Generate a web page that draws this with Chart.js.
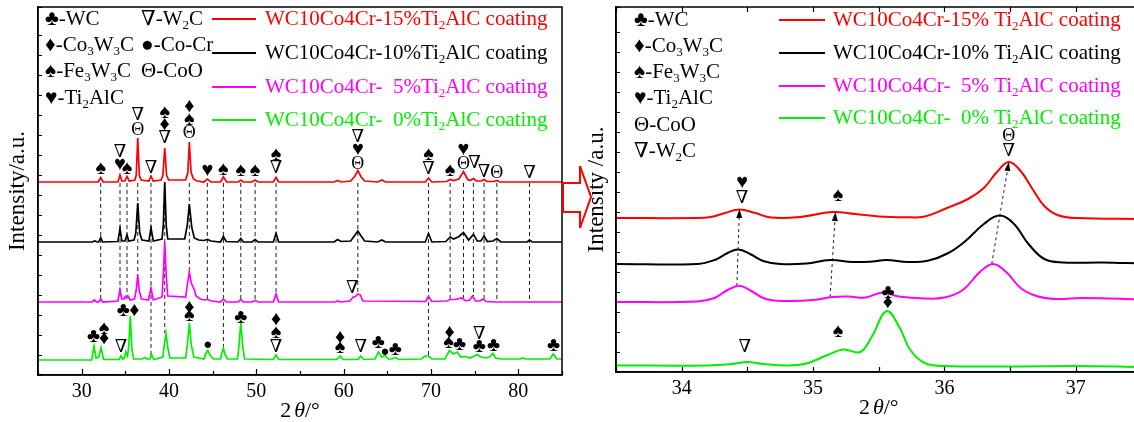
<!DOCTYPE html>
<html>
<head>
<meta charset="utf-8">
<script src="https://cdn.jsdelivr.net/npm/chart.js@4.4.0/dist/chart.umd.min.js"></script>
<style>
  html, body { margin: 0; padding: 0; background: #fff; overflow: hidden; }
  #wrap { position: relative; width: 1134px; height: 422px; overflow: hidden; }
  canvas { position: absolute; top: 0; }
  #cl { left: 0; width: 575px; height: 422px; }
  #cr { left: 570px; width: 580px; height: 422px; }
  svg { position: absolute; left: 0; top: 0; }
</style>
</head>
<body>
<div id="wrap">
  <canvas id="cl" width="575" height="422"></canvas>
  <canvas id="cr" width="580" height="422"></canvas>
  <svg width="1134" height="422">
    <polygon points="563,183 580,183 580,166 591,197 580,228 580,212 563,212" fill="#fff" stroke="#f00" stroke-width="2"/>
  </svg>
</div>
<script>
/* ── XRD patterns: [2θ, intensity (a.u., offset stacked)] ── */

// left panel, 25–85°
const redL = [[25,193],[31.9,193],[32.18,197.5],[32.45,193],[34.15,193],[34.39,200],[34.6,194],[34.95,194],[35.19,198.5],[35.45,194],
  [36.1,195],[36.25,200],[36.42,237],[36.6,200],[36.8,195],[37.7,194],[37.94,199],[38.2,194],
  [39.1,195],[39.3,200],[39.51,227],[39.72,200],[39.95,195],[41.9,195],[42.15,202],[42.33,233],[42.52,203],[42.8,196],[43.2,194],
  [44.0,193],[44.39,196],[44.8,193],[45.9,193],[46.23,198],[46.6,193],[47.95,193],[48.22,195],[48.5,193],[49.5,193],[49.86,195],[50.2,193],
  [51.95,193],[52.26,197.5],[52.55,193],[58.9,193],[59.3,194.5],[59.7,193],[60.8,194],[61.3,199],[61.62,204.5],[62.0,198],[62.4,194],
  [63.9,193],[64.37,195],[64.8,193],[69.35,193],[69.71,197],[70.1,193],[71.8,193.5],[72.19,195.5],[72.6,194.5],[73.2,196],[73.72,203.5],
  [74.2,195.5],[74.5,194.5],[74.86,196.5],[75.2,194],[75.7,194],[76.08,195.5],[76.4,193.5],[77.2,193.5],[77.54,194.5],[77.9,193],[85,193]];
const blackL = [[25,133],[31.2,133],[31.5,134],[31.8,133],[31.95,133],[32.18,137.5],[32.4,133],[34.15,133.5],[34.39,146.5],[34.6,134],
  [34.95,134],[35.19,140],[35.4,134],[36.0,135],[36.2,142],[36.42,172],[36.65,142],[36.9,135],[37.7,134],[37.94,147],[38.2,134],
  [39.2,136],[39.35,150],[39.51,193],[39.68,150],[39.85,136],[41.8,136],[42.1,150],[42.33,171],[42.6,148],[42.9,137],[43.4,135],
  [44.0,134.5],[44.4,135.5],[44.8,134],[45.9,133],[46.23,138.5],[46.55,133.5],[47.9,133],[48.22,136.5],[48.5,133],[49.5,133],[49.86,135.5],[50.2,133],
  [51.95,133],[52.26,141.5],[52.55,133],[58.9,133],[59.3,135.5],[59.7,133.5],[60.8,134],[61.3,140],[61.62,144],[62.0,139],[62.4,134],
  [63.9,133],[64.37,135],[64.8,133],[69.35,133],[69.71,141.5],[70.1,133],[71.7,133.5],[72.19,138],[72.6,136],[73.2,138.5],[73.72,142.5],
  [74.3,135],[74.86,140.5],[75.3,134],[75.7,134],[76.08,139],[76.45,133.5],[77.1,134],[77.54,136.5],[78.0,133],[81.0,133],[81.28,135],[81.6,133],[85,133]];
const magentaL = [[25,73],[31.2,73],[31.45,75],[31.7,73],[31.95,73],[32.18,76],[32.4,73],[34.15,74],[34.39,85],[34.6,76],[34.85,76],
  [35.0,78.5],[35.15,77],[35.3,79],[35.55,75],[36.05,76],[36.25,85],[36.42,100],[36.6,84],[36.85,76],[37.65,75],[37.94,87],[38.2,75],
  [39.2,78],[39.35,100],[39.51,133],[39.68,100],[39.85,79],[41.9,78],[42.1,90],[42.33,103],[42.55,92],[42.75,88],[42.9,85],[43.1,79],[43.6,76],
  [44.0,75],[44.4,75.5],[44.9,74],[45.9,73],[46.23,76],[46.55,73],[47.95,73],[48.22,75.5],[48.5,73],[49.5,73],[49.86,74.5],[50.2,73],
  [51.95,73],[52.26,81],[52.55,73],[59.0,73],[59.3,74],[59.6,73],[60.7,74],[61.1,78],[61.35,78.5],[61.62,81],[61.9,80],[62.2,74],
  [69.4,73.5],[69.71,78.5],[70.1,73.5],[71.8,74],[72.2,75.5],[72.8,75.5],[73.5,77],[73.9,74.5],[74.4,74.5],[74.75,79],[75.1,74],
  [75.6,74],[75.95,76],[76.3,73.5],[77.3,73],[85,73]];
const greenL = [[25,15],[31.15,15],[31.41,29],[31.65,17],[31.95,18],[32.22,27.5],[32.5,15.5],[34.3,15.5],[34.5,19],[34.7,16],[34.9,17],
  [35.05,23],[35.25,19],[35.4,30],[35.57,59],[35.75,26],[35.95,16],[36.9,16],[37.2,17.5],[37.5,16],[37.8,16],[38.0,20.5],[38.25,15.5],
  [39.3,18],[39.45,30],[39.66,41.5],[39.85,28],[40.1,17],[41.9,17],[42.1,30],[42.33,52],[42.55,30],[42.85,18],
  [44.0,16],[44.25,22],[44.44,24.5],[44.7,20],[45.1,16],[45.9,16],[46.05,22],[46.23,26.5],[46.45,20],[46.7,16],
  [47.85,16],[48.0,28],[48.22,52],[48.45,28],[48.65,16],[51.95,15.5],[52.26,20],[52.55,15.5],[59.2,15.5],[59.6,19],[59.95,15.5],
  [61.65,15.5],[61.96,19],[62.3,15.5],[63.6,16],[63.98,23],[64.35,18],[64.75,19.5],[65.1,16],[65.5,16],[65.9,17.5],[66.3,15.5],
  [68.9,16],[69.3,19],[69.7,19],[70.1,16],[71.6,16],[72.1,24.5],[72.6,21],[73.0,23],[73.4,18],[74.0,18.5],[74.5,17],[75.3,20.5],
  [75.7,18],[76.3,17],[76.7,18],[77.08,21.5],[77.4,17],[78.0,16],[80.2,16],[80.5,17],[80.8,16],[83.6,16],[84.0,21],[84.4,16],[85,16]];

// dashed guide lines (left): 2θ, top and bottom intensity
const dashX   = [32.18, 34.39, 35.19, 36.42, 37.94, 39.51, 42.33, 44.39, 46.23, 48.22, 49.86, 52.26, 61.62, 69.71, 72.19, 73.72, 74.86, 76.08, 77.54, 81.28];
const dashEnd = [73, 85, 78, 100, 20, 42, 103, 75, 27, 75, 74, 81, 80, 19, 75, 77, 79, 76, 73, 72];
const dashTop = 192;

// phase markers (left): 2θ, intensity, glyph
const symLX = [32.18, 34.39, 34.39, 35.19, 36.42, 36.42, 37.94, 39.51, 39.51, 39.51, 42.33, 42.33, 42.33, 44.39, 46.23, 48.22, 49.86,
  52.26, 52.26, 61.62, 61.62, 61.62, 69.71, 69.71, 72.19, 73.72, 73.72, 74.98, 76.08, 77.54, 81.28,
  61.0,
  31.35, 32.56, 32.56, 34.5, 34.78, 36.04, 42.33, 42.33, 44.44, 48.22, 52.26, 52.26, 52.26, 59.6, 59.6, 61.96, 63.98, 64.75, 65.9,
  72.12, 72.0, 73.26, 75.52, 75.52, 77.15, 84.03];
const symLY = [206, 223, 210, 206, 260, 245, 207, 262, 250, 237, 268, 255, 242, 204, 205, 204, 204,
  220, 207, 238, 225, 211, 220, 206, 204, 225, 211, 212, 203, 202, 202,
  87,
  38, 46, 36, 28, 64, 64, 67, 59, 30, 57, 55, 42, 28, 37, 27, 28, 32, 23, 25,
  42, 32, 30, 41, 28, 29, 29];
const symLG = ['♠', '∇', '♥', '♠', '∇', 'Θ', '∇', '♠', '♦', '∇', '♦', '♠', 'Θ', '♥', '♠', '♠', '♠',
  '♠', '∇', '∇', '♥', 'Θ', '♠', '∇', '♠', '♥', 'Θ', '∇', '∇', 'Θ', '∇',
  '∇',
  '♣', '♠', '♦', '∇', '♣', '♦', '♦', '♠', '●', '♣', '♦', '♠', '∇', '♦', '♠', '∇', '♣', '●', '♣',
  '♦', '♠', '♣', '∇', '♣', '♣', '♣'];

// right panel, 33.5–37.5°
const redR = [[33.5,154],[34.1,154],[34.22,155],[34.33,159],[34.44,162.6],[34.56,159],[34.68,154.5],[34.9,155],[35.15,160],[35.32,158],
  [35.5,155.5],[35.7,154.8],[35.85,155.5],[36.02,164],[36.18,173],[36.3,184],[36.4,200],[36.49,210],[36.58,201],[36.67,183],
  [36.76,166],[36.86,157],[37.0,154],[37.5,153]];
const blackR = [[33.5,108],[34.12,108],[34.25,112],[34.35,119],[34.43,122.6],[34.52,118],[34.62,111],[34.75,108],[34.95,108.5],
  [35.13,112],[35.3,110],[35.45,110.5],[35.56,112],[35.72,110],[35.88,111.5],[36.03,119],[36.16,131],[36.3,148],[36.42,156.4],
  [36.53,148],[36.64,128],[36.76,113],[36.9,109.5],[37.2,109.5],[37.5,108.5]];
const magentaR = [[33.5,70],[34.12,70.5],[34.25,74],[34.35,82],[34.44,86.2],[34.53,81],[34.64,73],[34.8,71],[35.0,72],[35.15,75],[35.27,75.5],
  [35.4,74.5],[35.53,79.5],[35.65,75.5],[35.85,73.5],[36.0,74.5],[36.14,82],[36.27,100],[36.37,108],[36.47,100],[36.58,84],
  [36.7,76],[36.85,73],[37.05,74],[37.5,72.5]];
const greenR = [[33.5,6.5],[34.2,6.5],[34.38,8],[34.5,10],[34.62,8],[34.8,6.5],[34.95,8.5],[35.1,16.5],[35.23,22.5],[35.36,20],
  [35.45,36],[35.56,61],[35.66,44],[35.74,22],[35.85,9],[36.0,6],[36.5,5.5],[37.0,6],[37.5,5]];

// shift arrows (right): from magenta peak to red peak
const arrowX0 = [34.42, 35.13, 36.36];
const arrowY0 = [86, 75, 108];
const arrowX1 = [34.44, 35.17, 36.49];
const arrowY1 = [163, 160, 210];

// phase markers (right)
const symRX = [34.46, 34.46, 35.19, 36.49, 36.49, 34.48, 35.19, 35.57, 35.57];
const symRY = [189, 174, 176, 236, 221, 25, 40, 79, 69];
const symRG = ['♥', '∇', '♠', 'Θ', '∇', '∇', '♠', '♣', '♦'];

const seriesColors = ['#ff0000', '#000000', '#ff00ff', '#00f000'];
const labelsL = ['WC10Co4Cr-15%Ti_2AlC coating', 'WC10Co4Cr-10%Ti_2AlC coating', 'WC10Co4Cr-  5%Ti_2AlC coating', 'WC10Co4Cr-  0%Ti_2AlC coating'];
const labelsR = ['WC10Co4Cr-15% Ti_2AlC coating', 'WC10Co4Cr-10% Ti_2AlC coating', 'WC10Co4Cr-  5% Ti_2AlC coating', 'WC10Co4Cr-  0% Ti_2AlC coating'];
const phasesL1 = ['♣-WC', '♦-Co_3W_3C', '♠-Fe_3W_3C', '♥-Ti_2AlC'];
const phasesL2 = ['∇-W_2C', '●-Co-Cr', 'Θ-CoO'];
const phasesR = ['♣-WC', '♦-Co_3W_3C', '♠-Fe_3W_3C', '♥-Ti_2AlC', 'Θ-CoO', '∇-W_2C'];

const SERIF = '"Liberation Serif", "DejaVu Serif", serif';

// text with '_x' subscripts
function rich(ctx, str, x, y, size, color) {
  const segs = [];
  for (let i = 0; i < str.length; i++) {
    if (str[i] === '_') { segs.push([str[i + 1], true]); i++; }
    else if (segs.length && !segs[segs.length - 1][1]) segs[segs.length - 1][0] += str[i];
    else segs.push([str[i], false]);
  }
  ctx.fillStyle = color;
  ctx.textAlign = 'left';
  ctx.textBaseline = 'middle';
  segs.forEach(([t, sub]) => {
    const fs = sub ? Math.round(size * 0.62) : size;
    ctx.font = `${fs}px ${SERIF}`;
    ctx.fillText(t, x, sub ? y + size * 0.33 : y);
    x += ctx.measureText(t).width;
  });
}

const decor = {
  id: 'decor',
  afterDraw(chart, args, o) {
    const { ctx, chartArea: a, scales: { x, y } } = chart;
    ctx.save();
    ctx.strokeStyle = '#000';
    ctx.lineWidth = 1.5;
    ctx.setLineDash([]);
    ctx.strokeRect(a.left, a.top, a.right - a.left, a.bottom - a.top);
    ctx.lineWidth = 1.2;
    ctx.beginPath();
    x.ticks.forEach(t => {
      const px = Math.round(x.getPixelForValue(t.value)) + 0.5;
      const len = t.label !== '' ? o.major : o.minor;
      ctx.moveTo(px, a.bottom); ctx.lineTo(px, a.bottom - len);
      if (o.topTicks) { ctx.moveTo(px, a.top); ctx.lineTo(px, a.top + len); }
    });
    y.ticks.forEach(t => {
      const py = Math.round(y.getPixelForValue(t.value)) + 0.5;
      ctx.moveTo(a.left, py); ctx.lineTo(a.left + 4, py);
    });
    ctx.stroke();

    // x title: 2θ/°
    const cx = (a.left + a.right) / 2;
    const parts = [['2', ''], ['θ', 'italic '], ['/°', '']];
    let w = 0;
    parts.forEach(([t, st]) => { ctx.font = `${st}22px ${SERIF}`; w += ctx.measureText(t).width + (t === '2' ? 3 : 0); });
    let tx = cx - w / 2;
    ctx.fillStyle = '#000'; ctx.textAlign = 'left'; ctx.textBaseline = 'middle';
    parts.forEach(([t, st]) => { ctx.font = `${st}22px ${SERIF}`; ctx.fillText(t, tx, o.titleY); tx += ctx.measureText(t).width + (t === '2' ? 3 : 0); });

    // phase markers
    ctx.textAlign = 'center';
    o.sx.forEach((v, i) => {
      const g = o.sg[i];
      const fs = (g === '∇' || g === 'Θ') ? 18 : (g === '●' ? 15 : 20);
      ctx.font = `${fs}px ${SERIF}`;
      ctx.fillText(g, x.getPixelForValue(v), y.getPixelForValue(o.sy[i]));
    });

    // arrow heads
    if (o.arrows) {
      o.arrows.x1.forEach((v, i) => {
        const px = x.getPixelForValue(v), py = y.getPixelForValue(o.arrows.y1[i]);
        const qx = x.getPixelForValue(o.arrows.x0[i]), qy = y.getPixelForValue(o.arrows.y0[i]);
        const ang = Math.atan2(py - qy, px - qx);
        ctx.beginPath();
        ctx.moveTo(px, py);
        ctx.lineTo(px - 9 * Math.cos(ang) + 3 * Math.sin(ang), py - 9 * Math.sin(ang) - 3 * Math.cos(ang));
        ctx.lineTo(px - 9 * Math.cos(ang) - 3 * Math.sin(ang), py - 9 * Math.sin(ang) + 3 * Math.cos(ang));
        ctx.closePath();
        ctx.fill();
      });
    }

    // legends
    o.phases.forEach(col => col.items.forEach((s, i) => rich(ctx, s, col.x, col.y[i], 21, '#000')));
    o.labels.forEach((s, i) => {
      ctx.strokeStyle = seriesColors[i]; ctx.lineWidth = 2;
      ctx.beginPath(); ctx.moveTo(o.lineX0, o.rowY[i]); ctx.lineTo(o.lineX1, o.rowY[i]); ctx.stroke();
      rich(ctx, s, o.textX, o.rowY[i], 21, seriesColors[i]);
    });
    ctx.restore();
  }
};

function curve(pts, i, lw, tension) {
  return {
    data: pts.map(([x, y]) => ({ x, y })),
    borderColor: seriesColors[i], borderWidth: lw, tension: tension || 0
  };
}
function guide(x0, y0, x1, y1, dash) {
  return { data: [{ x: x0, y: y0 }, { x: x1, y: y1 }], borderColor: '#222', borderWidth: 1, borderDash: dash, tension: 0 };
}

function axes(min, max, step, ymax, yw, xh, title, tpad, isTick) {
  return {
    x: {
      type: 'linear', min, max,
      afterFit: s => { s.height = xh; },
      ticks: { stepSize: step, autoSkip: false, maxRotation: 0, padding: 5, color: '#000',
               font: { family: SERIF, size: 20 }, callback: v => isTick(v) ? String(Math.round(v)) : '' },
      grid: { display: false, drawTicks: false },
      border: { display: true, color: '#000', width: 1.5 }
    },
    y: {
      min: 0, max: ymax,
      afterFit: s => { s.width = yw; },
      ticks: { display: false, stepSize: 20 },
      grid: { display: false, drawTicks: false },
      border: { display: true, color: '#000', width: 1.5 },
      title: { display: true, text: title, color: '#000', font: { family: SERIF, size: 23 }, padding: { top: tpad, bottom: 0 } }
    }
  };
}

// left panel
new Chart(document.getElementById('cl'), {
  type: 'line',
  data: {
    datasets: [
      curve(redL, 0, 1.7), curve(blackL, 1, 1.7), curve(magentaL, 2, 1.7), curve(greenL, 3, 1.7),
      ...dashX.map((v, i) => guide(v, dashTop, v, dashEnd[i], [4, 3]))
    ]
  },
  options: {
    responsive: false, animation: false, events: [],
    layout: { padding: { left: 0, right: 13, top: 7, bottom: 0 } },
    elements: { point: { radius: 0 } },
    scales: axes(25, 85, 5, 368, 38, 47, 'Intensity/a.u.', 4, v => v % 10 === 0),
    plugins: {
      legend: { display: false }, tooltip: { enabled: false },
      decor: {
        major: 6, minor: 4, topTicks: false, titleY: 411,
        sx: symLX, sy: symLY, sg: symLG,
        phases: [{ x: 45, y: [19, 45, 71, 98], items: phasesL1 }, { x: 141, y: [19, 45, 71], items: phasesL2 }],
        labels: labelsL, rowY: [19, 53, 87, 120], lineX0: 212, lineX1: 256, textX: 265
      }
    }
  },
  plugins: [decor]
});

// right panel (zoom 33.5–37.5°)
new Chart(document.getElementById('cr'), {
  type: 'line',
  data: {
    datasets: [
      curve(redR, 0, 2, 0.4), curve(blackR, 1, 2, 0.4), curve(magentaR, 2, 2, 0.4), curve(greenR, 3, 2, 0.4),
      ...arrowX0.map((v, i) => guide(v, arrowY0[i], arrowX1[i], arrowY1[i], [3, 3]))
    ]
  },
  options: {
    responsive: false, animation: false, events: [],
    layout: { padding: { left: 0, right: 8.5, top: 7, bottom: 0 } },
    elements: { point: { radius: 0 } },
    scales: axes(33.5, 37.5, 0.5, 365, 46, 50, 'Intensity /a.u.', 13, v => Math.abs(v - Math.round(v)) < 1e-6),
    plugins: {
      legend: { display: false }, tooltip: { enabled: false },
      decor: {
        major: 5, minor: 5, topTicks: true, titleY: 408,
        sx: symRX, sy: symRY, sg: symRG,
        arrows: { x0: arrowX0, y0: arrowY0, x1: arrowX1, y1: arrowY1 },
        phases: [{ x: 64, y: [20, 46, 72, 98, 125, 151], items: phasesR }],
        labels: labelsR, rowY: [20, 53, 86, 118], lineX0: 209, lineX1: 255, textX: 263
      }
    }
  },
  plugins: [decor]
});
</script>
</body>
</html>
